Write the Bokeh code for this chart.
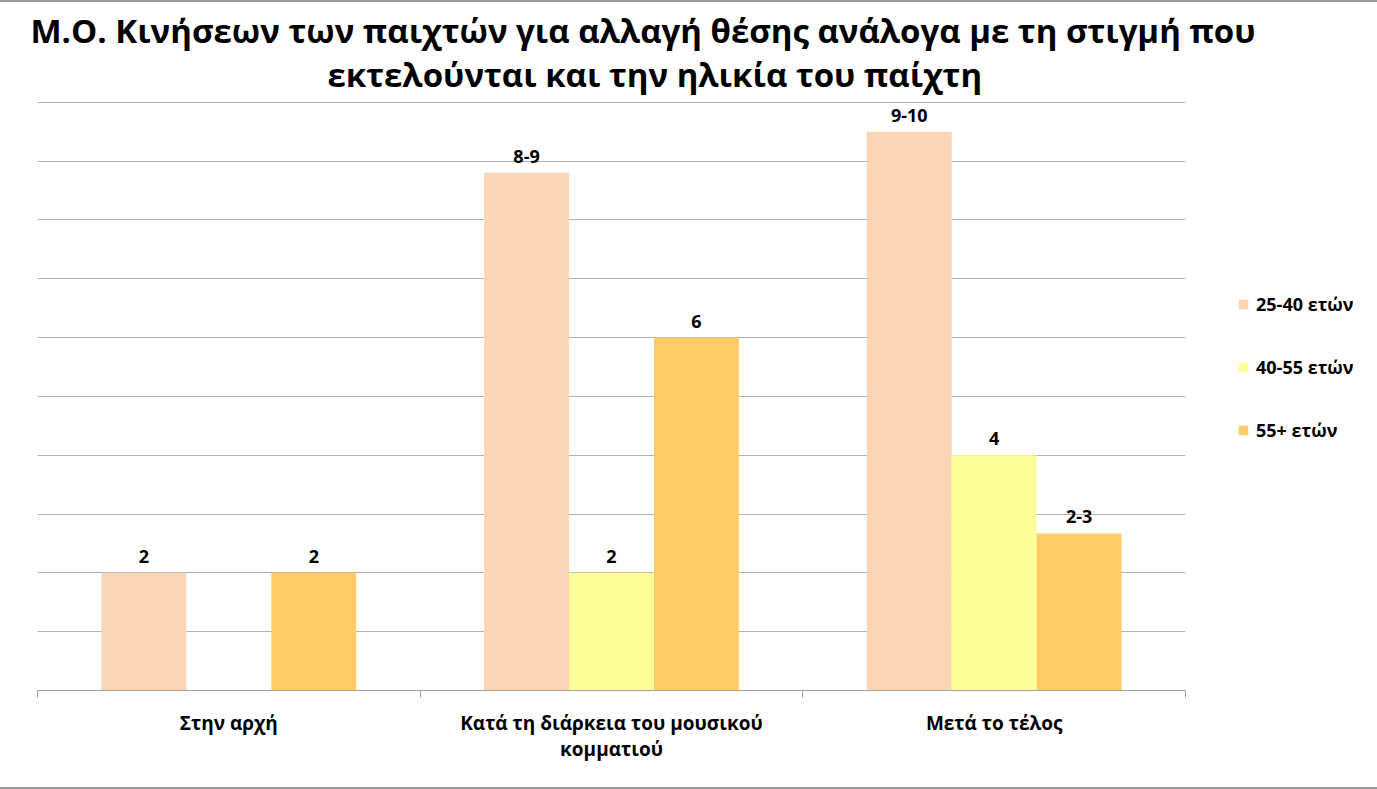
import numpy as np
from bokeh.plotting import figure
from bokeh.core.properties import value
from bokeh.models import (ColumnDataSource, Range1d, FixedTicker, LabelSet,
                          Legend, LegendItem, Title)
from bokeh.embed import file_html
from bokeh.resources import INLINE

# ---- data ----
categories = ["Στην αρχή", "Κατά τη διάρκεια του μουσικού\nκομματιού", "Μετά το τέλος"]
series_names = ["25-40 ετών", "40-55 ετών", "55+ ετών"]
values_25_40 = [2, 8.8, 9.5]
values_40_55 = [0, 2, 4]
values_55 = [2, 6, 2.67]
labels_25_40 = ["2", "8-9", "9-10"]
labels_40_55 = ["", "2", "4"]
labels_55 = ["2", "6", "2-3"]
colors = ["#FBD5B5", "#FFFF99", "#FFCC66"]
y_ticks = list(range(0, 11))
title_line1 = "Μ.Ο. Κινήσεων των παιχτών για αλλαγή θέσης ανάλογα με τη στιγμή που"
title_line2 = "εκτελούνται και την ηλικία του παίχτη"

FONT = "Open Sans"

centers = np.arange(len(categories)) + 0.5
bar_w = 0.222
offsets = [-bar_w, 0.0, bar_w]
series_values = [values_25_40, values_40_55, values_55]
series_labels = [labels_25_40, labels_40_55, labels_55]

p = figure(frame_width=1148, frame_height=590,
           x_range=Range1d(0, len(categories)), y_range=Range1d(0, 10.03),
           output_backend="svg", toolbar_location=None,
           min_border_left=37, min_border_right=192,
           min_border_top=98, min_border_bottom=97)

p.title = Title(text=title_line1, align="left", offset=-7,
                text_font=FONT, text_font_size="33px", text_font_style="bold",
                text_color="#000000", standoff=-15)
p.add_layout(Title(text=title_line2, align="left", offset=290,
                   text_font=FONT, text_font_size="33px", text_font_style="bold",
                   text_color="#000000", standoff=8), "above")

legend_items = []
for name, vals, labs, off, col in zip(series_names, series_values, series_labels, offsets, colors):
    src = ColumnDataSource(dict(x=centers + off, top=vals, lab=labs))
    r = p.vbar(x="x", top="top", width=bar_w, source=src, fill_color=col, line_color=None)
    legend_items.append(LegendItem(label=name, renderers=[r]))
    ls = LabelSet(x="x", y="top", text="lab", source=src, text_align="center",
                  text_baseline="bottom", y_offset=10, text_font=value(FONT),
                  text_font_size=value("18px"), text_font_style="bold",
                  text_color="#000000")
    p.add_layout(ls)

# axes
p.yaxis.visible = False
p.yaxis.ticker = FixedTicker(ticks=y_ticks)
p.ygrid.ticker = FixedTicker(ticks=y_ticks)
p.ygrid.grid_line_color = "#B0B0B0"
p.xgrid.visible = False

xa = p.xaxis[0]
xa.ticker = FixedTicker(ticks=list(centers), minor_ticks=list(range(len(categories) + 1)))
xa.major_label_overrides = {float(c): cat for c, cat in zip(centers, categories)}
xa.major_tick_out = 0
xa.major_tick_in = 0
xa.minor_tick_out = 7
xa.minor_tick_in = 0
xa.minor_tick_line_color = "#A0A0A0"
xa.axis_line_color = "#A0A0A0"
xa.major_label_standoff = 12
xa.major_label_text_font = FONT
xa.major_label_text_font_size = "19px"
xa.major_label_text_font_style = "bold"
xa.major_label_text_line_height = 1.0
xa.major_label_text_color = "#000000"

p.outline_line_color = None

legend = Legend(items=legend_items, location=(52, 248), orientation="vertical",
                glyph_width=12, glyph_height=12, label_height=20, spacing=39,
                label_standoff=7, padding=0, margin=0,
                border_line_color=None, background_fill_alpha=0,
                label_text_font=FONT, label_text_font_size="18px",
                label_text_font_style="bold", label_text_color="#000000")
p.add_layout(legend, "right")

p.styles = {"border-top": "2px solid #999999", "border-bottom": "2px solid #999999"}

open("out.html", "w").write(file_html(p, INLINE))
